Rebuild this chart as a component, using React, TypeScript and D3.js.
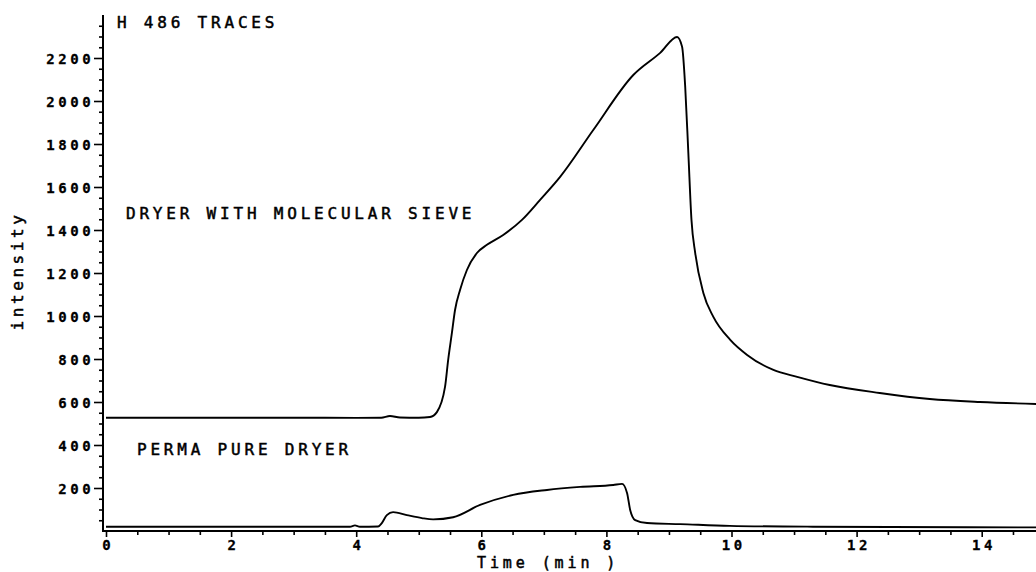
import React, { useEffect, useRef } from 'react';
import * as d3 from 'd3';

// time in minutes, intensity
const sieveTime = [0, 1, 2, 3, 4, 4.4, 4.54, 4.7, 5.0, 5.18, 5.29, 5.42, 5.47, 5.53, 5.58, 5.66, 5.77, 5.93, 6.09, 6.35, 6.65, 6.94, 7.26, 7.79, 8.43, 8.86, 9.13, 9.21, 9.26, 9.31, 9.36, 9.42, 9.55, 9.71, 9.98, 10.25, 10.67, 11.05, 11.57, 12.37, 13.17, 13.97, 14.87, 15];
const sieveValue = [527, 527, 527, 527, 526, 527, 535, 528, 527, 530, 553, 670, 795, 921, 1028, 1121, 1214, 1293, 1331, 1377, 1447, 1540, 1647, 1865, 2121, 2224, 2298, 2252, 2065, 1758, 1447, 1293, 1107, 996, 889, 819, 749, 717, 679, 642, 614, 600, 591, 590];

const permaTime = [0, 1, 2, 3, 3.9, 3.98, 4.06, 4.35, 4.41, 4.49, 4.59, 4.81, 5.05, 5.23, 5.55, 5.98, 6.51, 7.05, 7.58, 8.11, 8.25, 8.33, 8.38, 8.46, 8.65, 9.18, 9.97, 11.3, 14.87, 15];
const permaValue = [20, 20, 20, 20, 20, 26, 20, 21, 37, 74, 88, 74, 60, 54, 64, 121, 168, 191, 205, 214, 219, 177, 98, 51, 37, 32, 24, 20, 17, 17];

const yMajor = [200, 400, 600, 800, 1000, 1200, 1400, 1600, 1800, 2000, 2200];
const xMajor = [0, 2, 4, 6, 8, 10, 12, 14];

const plotFont = "'DejaVu Sans Mono', monospace";

function App() {
  const ref = useRef<SVGSVGElement>(null);

  useEffect(() => {
    const svg = d3.select(ref.current);
    svg.selectAll('*').remove();

    const x = d3.scaleLinear().domain([0, 15]).range([106, 106 + 62.55 * 15]);
    const y = d3.scaleLinear().domain([0, 2400]).range([531, 15]);

    const yMinor = d3.range(50, 2401, 50).filter(v => v % 200 !== 0);
    const xMinor = d3.range(0.5, 15.01, 0.5).filter(v => v % 2 !== 0);

    // axis lines
    svg.append('line').attr('x1', 103).attr('x2', 103).attr('y1', y(2400)).attr('y2', y(0))
      .attr('stroke', '#000').attr('stroke-width', 2);
    svg.append('line').attr('x1', 102).attr('x2', 1036).attr('y1', y(0)).attr('y2', y(0))
      .attr('stroke', '#000').attr('stroke-width', 2);

    // y ticks
    const gy = svg.append('g').attr('transform', 'translate(103,0)');
    gy.call(d3.axisLeft(y).tickValues(yMinor).tickSize(4).tickFormat(() => ''));
    gy.select('.domain').remove();
    const gyMaj = svg.append('g').attr('transform', 'translate(103,0)');
    gyMaj.call(d3.axisLeft(y).tickValues(yMajor).tickSize(9).tickPadding(3).tickFormat(d3.format('d')));
    gyMaj.select('.domain').remove();
    gyMaj.selectAll('text').attr('font-family', plotFont).attr('font-size', 14).attr('font-weight', 'bold')
      .attr('letter-spacing', 3.6).attr('dx', 3.4).attr('dy', '0.4em');

    // x ticks
    const gx = svg.append('g').attr('transform', `translate(0,${y(0)})`);
    gx.call(d3.axisBottom(x).tickValues(xMinor).tickSize(4).tickFormat(() => ''));
    gx.select('.domain').remove();
    const gxMaj = svg.append('g').attr('transform', `translate(0,${y(0)})`);
    gxMaj.call(d3.axisBottom(x).tickValues(xMajor).tickSize(6).tickPadding(3).tickFormat(d3.format('d')));
    gxMaj.select('.domain').remove();
    gxMaj.selectAll('text').attr('font-family', plotFont).attr('font-size', 14).attr('font-weight', 'bold')
      .attr('letter-spacing', 3.6).attr('dx', 1.8);

    svg.selectAll('.tick line').attr('stroke', '#000').attr('stroke-width', 1.6);
    svg.selectAll('.tick text').attr('fill', '#000').attr('stroke', '#000').attr('stroke-width', 0.3);

    const line = d3.line<[number, number]>()
      .x(d => x(d[0]))
      .y(d => y(d[1]))
      .curve(d3.curveMonotoneX);

    const sieve = sieveTime.map((t, i) => [t, sieveValue[i]] as [number, number]);
    const perma = permaTime.map((t, i) => [t, permaValue[i]] as [number, number]);

    svg.append('path').attr('d', line(sieve)).attr('fill', 'none').attr('stroke', '#000').attr('stroke-width', 1.9);
    svg.append('path').attr('d', line(perma)).attr('fill', 'none').attr('stroke', '#000').attr('stroke-width', 1.9);

    const label = (txt: string, lx: number, ly: number, size = 16) =>
      svg.append('text').attr('x', lx).attr('y', ly).text(txt)
        .attr('font-family', plotFont).attr('font-size', size).attr('letter-spacing', 3.8)
        .attr('fill', '#000').attr('stroke', '#000').attr('stroke-width', 0.5);

    label('H 486 TRACES', 117, 28);
    label('DRYER WITH MOLECULAR SIEVE', 126, 219);
    label('PERMA PURE DRYER', 137, 455);
    label('Time (min )', 477, 568, 15).attr('letter-spacing', 3.9);

    svg.append('text').text('intensity')
      .attr('transform', 'translate(23,271) rotate(-90)')
      .attr('text-anchor', 'middle')
      .attr('font-family', plotFont).attr('font-size', 16).attr('letter-spacing', 3.6)
      .attr('fill', '#000').attr('stroke', '#000').attr('stroke-width', 0.5);
  }, []);

  return (
    <svg ref={ref} width={1036} height={572}
      style={{ position: 'absolute', left: 0, top: 0, background: '#fff' }} />
  );
}

export default App;
